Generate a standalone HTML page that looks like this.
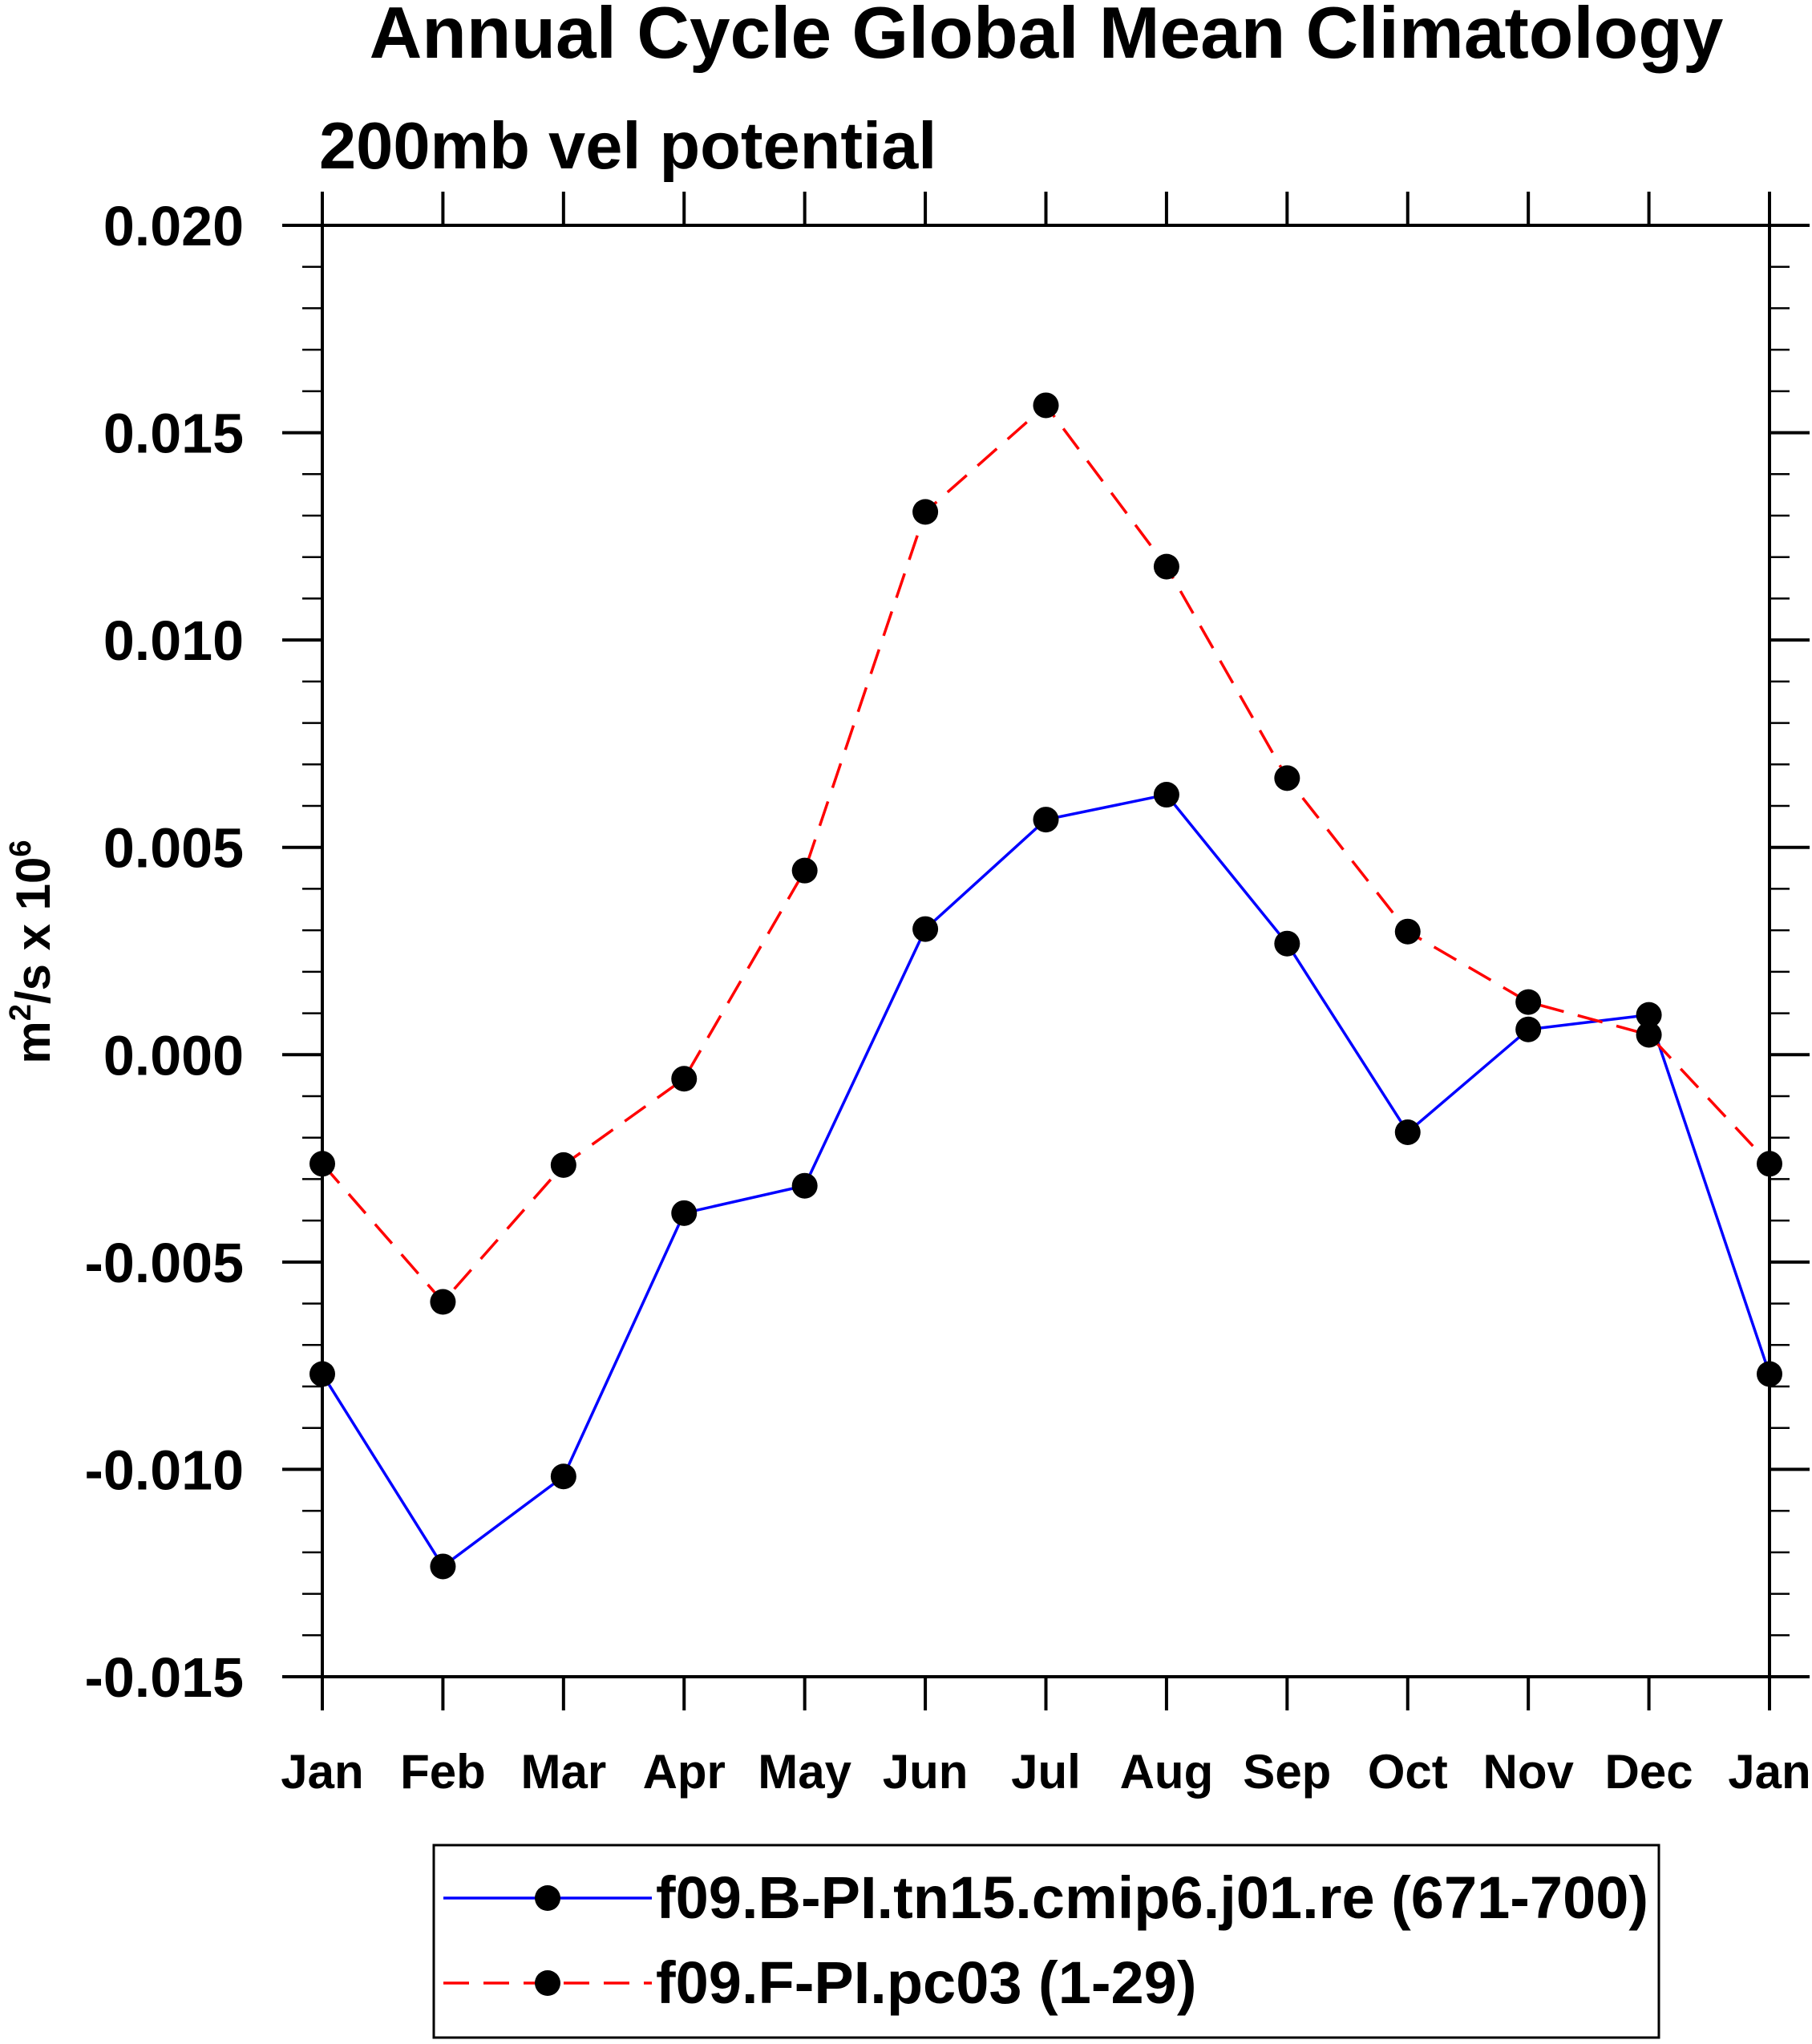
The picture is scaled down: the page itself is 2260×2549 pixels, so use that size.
<!DOCTYPE html>
<html><head><meta charset="utf-8"><style>
body{margin:0;background:#fff}
svg text{font-family:"Liberation Sans",sans-serif;font-weight:bold;fill:#000}
</style></head><body>
<svg id="chart" width="2260" height="2544" xmlns="http://www.w3.org/2000/svg">
<text x="1305" y="72" font-size="91" text-anchor="middle">Annual Cycle Global Mean Climatology</text>
<text x="398" y="210" font-size="83">200mb vel potential</text>
<text transform="translate(62,1187) rotate(-90)" font-size="60" text-anchor="middle">m<tspan dy="-24" font-size="38">2</tspan><tspan dy="24">/s x 10</tspan><tspan dy="-24" font-size="38">6</tspan></text>
<g id="axes"></g>
<g id="series"></g>
<rect x="541" y="2301" width="1528" height="240" fill="none" stroke="#000" stroke-width="3"/>
<line x1="553" y1="2367" x2="813" y2="2367" stroke="#0000ff" stroke-width="3.5"/>
<circle cx="683" cy="2367" r="16" fill="#000"/>
<text x="818" y="2392" font-size="74">f09.B-PI.tn15.cmip6.j01.re (671-700)</text>
<line x1="553" y1="2473" x2="813" y2="2473" stroke="#ff0000" stroke-width="3.5" stroke-dasharray="32,18"/>
<circle cx="683" cy="2473" r="16" fill="#000"/>
<text x="818" y="2498" font-size="74">f09.F-PI.pc03 (1-29)</text>
</svg>
<script>
const months=["Jan","Feb","Mar","Apr","May","Jun","Jul","Aug","Sep","Oct","Nov","Dec","Jan"];
const blueVals=[-0.0077,-0.01234,-0.01017,-0.00382,-0.00316,0.00303,0.00567,0.00627,0.00268,-0.00187,0.00061,0.00096,-0.0077];
const redVals=[-0.00263,-0.00596,-0.00266,-0.00058,0.00444,0.01309,0.01566,0.01177,0.00667,0.00297,0.00127,0.00048,-0.00263];
const yTicks=[-0.015,-0.010,-0.005,0.000,0.005,0.010,0.015,0.020];
const yTickLabels=["-0.015","-0.010","-0.005","0.000","0.005","0.010","0.015","0.020"];
const L=402,R=2207,T=281,B=2091,yMin=-0.015,yMax=0.020;
const NS="http://www.w3.org/2000/svg";
function xs(i){return L+(R-L)*i/(months.length-1);}
function ys(v){return B-(v-yMin)/(yMax-yMin)*(B-T);}
function mk(tag,attrs,parent){const e=document.createElementNS(NS,tag);for(const k in attrs)e.setAttribute(k,attrs[k]);parent.appendChild(e);return e;}
const ax=document.getElementById('axes');
let fr=mk('rect',{x:L,y:T,width:R-L,height:B-T,fill:'none',stroke:'#000','stroke-width':4},ax);


months.forEach((m,i)=>{
  const x=xs(i);
  let t=mk('line',{x1:x,y1:B,x2:x,y2:B+42,stroke:'#000','stroke-width':4},ax);
  
  
  let t2=mk('line',{x1:x,y1:T,x2:x,y2:T-42,stroke:'#000','stroke-width':4},ax);
  
  
  let tx=mk('text',{x:x,y:2230,'font-size':60,'text-anchor':'middle'},ax);
  tx.textContent=m;
  
  
});
for(let v=yMin;v<=yMax+1e-9;v+=0.001){
  const y=ys(v);
  const major=Math.abs(Math.round(v*1000)%5)===0;
  const len=major?50:25;
  let a=mk('line',{x1:L,y1:y,x2:L-len,y2:y,stroke:'#000','stroke-width':major?4:2.5},ax);
  
  
  let b=mk('line',{x1:R,y1:y,x2:R+len,y2:y,stroke:'#000','stroke-width':major?4:2.5},ax);
  
  
}
yTicks.forEach((v,i)=>{
  let tx=mk('text',{x:304,y:ys(v)+25,'font-size':70,'text-anchor':'end'},ax);
  tx.textContent=yTickLabels[i];
  
  
});
const sg=document.getElementById('series');
function series(vals,color,dash,name){
  const pts=vals.map((v,i)=>xs(i)+','+ys(v)).join(' ');
  let p=mk('polyline',{points:pts,fill:'none',stroke:color,'stroke-width':3.5},sg);
  if(dash)p.setAttribute('stroke-dasharray',dash);
  
  
  vals.forEach((v,i)=>{
    let c=mk('circle',{cx:xs(i),cy:ys(v),r:16,fill:'#000'},sg);
    
    
  });
}
series(blueVals,'#0000ff',null,'blue-series');
series(redVals,'#ff0000','32,18','red-series');
</script>
</body></html>
